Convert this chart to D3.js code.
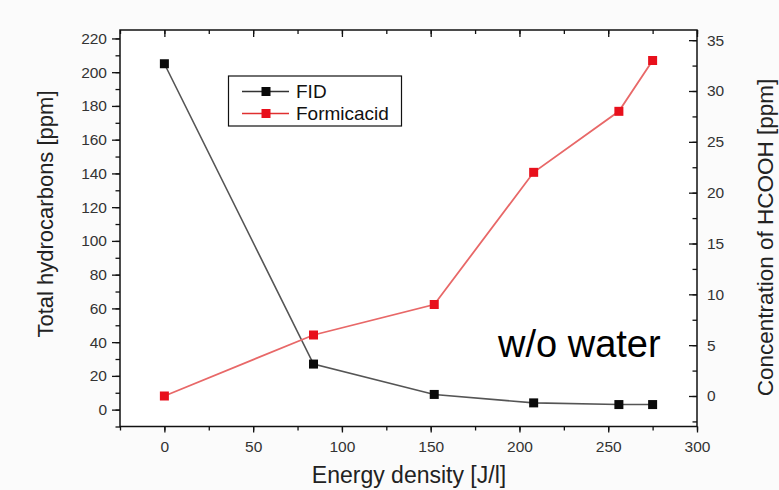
<!DOCTYPE html>
<html lang="en">
<head>
    <meta charset="UTF-8">
    <title>Total hydrocarbons and formic acid vs energy density</title>
    <style>
        body {
            margin: 0;
            padding: 0;
            background-color: #fbfbfb;
        }
        svg {
            display: block;
            font-family: "Liberation Sans", Arial, sans-serif;
        }
        .tick text {
            font-size: 15.5px;
            fill: #333;
        }
        .axis-title {
            fill: #222;
            text-anchor: middle;
        }
        .legend-text {
            font-size: 19px;
            fill: #111;
        }
    </style>
</head>
<body>
    <svg width="779" height="490"></svg>

    <script src="https://d3js.org/d3.v7.min.js"></script>
    <script>
        // Energy density [J/l]
        const energy = [0, 84, 152, 208, 256, 275];
        // FID total hydrocarbons [ppm] (left axis)
        const fid = [205, 27, 9, 4, 3, 3];
        // Formic acid concentration [ppm] (right axis)
        const formic = [0, 6, 9, 22, 28, 33];

        const xTicks = [0, 50, 100, 150, 200, 250, 300];
        const leftTicks = [0, 20, 40, 60, 80, 100, 120, 140, 160, 180, 200, 220];
        const rightTicks = [0, 5, 10, 15, 20, 25, 30, 35];

        const svg = d3.select("svg");
        const margin = {top: 30, right: 82, bottom: 63.5, left: 120};
        const W = +svg.attr("width"), H = +svg.attr("height");
        const x0 = margin.left, x1 = W - margin.right;
        const y0 = H - margin.bottom, y1 = margin.top;

        const x = d3.scaleLinear().domain([-25, 300]).range([x0, x1]);
        const yL = d3.scaleLinear().domain([-10, 225]).range([y0, y1]);
        const yR = d3.scaleLinear().domain([-3, 36]).range([y0, y1]);

        svg.append("rect")
            .attr("x", x0).attr("y", y1)
            .attr("width", x1 - x0).attr("height", y0 - y1)
            .attr("fill", "#fff");

        const clean = g => g.call(g => g.select(".domain").remove())
            .call(g => g.selectAll("line").attr("stroke", "#111").attr("stroke-width", 1.3));

        // minor ticks
        const xMinor = d3.range(-25, 301, 25);
        svg.append("g").attr("transform", `translate(0,${y0})`)
            .call(d3.axisBottom(x).tickValues(xMinor).tickSize(4).tickFormat(""))
            .call(clean);
        svg.append("g").attr("transform", `translate(0,${y1})`)
            .call(d3.axisTop(x).tickValues(xMinor).tickSize(-4).tickFormat(""))
            .call(clean);
        svg.append("g").attr("transform", `translate(${x0},0)`)
            .call(d3.axisLeft(yL).tickValues(d3.range(-10, 221, 10)).tickSize(4.5).tickFormat(""))
            .call(clean);
        svg.append("g").attr("transform", `translate(${x1},0)`)
            .call(d3.axisRight(yR).tickValues(d3.range(-2.5, 36, 2.5)).tickSize(-4.5).tickFormat(""))
            .call(clean);

        // major ticks
        svg.append("g").attr("transform", `translate(0,${y0})`)
            .call(d3.axisBottom(x).tickValues(xTicks).tickSize(6).tickPadding(8.5))
            .call(clean);
        svg.append("g").attr("transform", `translate(0,${y1})`)
            .call(d3.axisTop(x).tickValues(xTicks).tickSize(-7).tickFormat(""))
            .call(clean);
        svg.append("g").attr("transform", `translate(${x0},0)`)
            .call(d3.axisLeft(yL).tickValues(leftTicks).tickSize(8).tickPadding(5))
            .call(clean);
        svg.append("g").attr("transform", `translate(${x1},0)`)
            .call(d3.axisRight(yR).tickValues(rightTicks).tickSize(-8).tickPadding(10))
            .call(clean);

        svg.selectAll(".tick text").attr("font-family", null).attr("font-size", null);

        // frame
        svg.append("rect")
            .attr("x", x0).attr("y", y1)
            .attr("width", x1 - x0).attr("height", y0 - y1)
            .attr("fill", "none")
            .attr("stroke", "#111")
            .attr("stroke-width", 1.5);

        const lineL = d3.line().x((d, i) => x(energy[i])).y(d => yL(d));
        const lineR = d3.line().x((d, i) => x(energy[i])).y(d => yR(d));

        svg.append("path").datum(fid)
            .attr("d", lineL)
            .attr("fill", "none")
            .attr("stroke", "#555")
            .attr("stroke-width", 1.6);
        svg.append("path").datum(formic)
            .attr("d", lineR)
            .attr("fill", "none")
            .attr("stroke", "#e86868")
            .attr("stroke-width", 1.8);

        const s = 9;
        svg.append("g").selectAll("rect")
            .data(fid)
            .join("rect")
            .attr("x", (d, i) => x(energy[i]) - s / 2)
            .attr("y", d => yL(d) - s / 2)
            .attr("width", s).attr("height", s)
            .attr("fill", "#0a0a0a");
        svg.append("g").selectAll("rect")
            .data(formic)
            .join("rect")
            .attr("x", (d, i) => x(energy[i]) - s / 2)
            .attr("y", d => yR(d) - s / 2)
            .attr("width", s).attr("height", s)
            .attr("fill", "#e8101c");

        // legend
        const legend = svg.append("g");
        legend.append("rect")
            .attr("x", 228.5).attr("y", 76)
            .attr("width", 173).attr("height", 50)
            .attr("fill", "#fff")
            .attr("stroke", "#111")
            .attr("stroke-width", 1.2);
        const items = [
            {name: "FID", line: "#333", mark: "#0a0a0a", y: 91.5},
            {name: "Formicacid", line: "#e03030", mark: "#e8101c", y: 113.5}
        ];
        items.forEach(it => {
            legend.append("line")
                .attr("x1", 242).attr("x2", 289)
                .attr("y1", it.y).attr("y2", it.y)
                .attr("stroke", it.line).attr("stroke-width", 1.4);
            legend.append("rect")
                .attr("x", 266 - 4.5).attr("y", it.y - 4.5)
                .attr("width", 9).attr("height", 9)
                .attr("fill", it.mark);
            legend.append("text")
                .attr("class", "legend-text")
                .attr("x", 296).attr("y", it.y + 6.5)
                .text(it.name);
        });

        // annotation
        svg.append("text")
            .attr("x", 498).attr("y", 357)
            .attr("font-size", 38)
            .attr("fill", "#000")
            .text("w/o water");

        // axis titles
        svg.append("text")
            .attr("class", "axis-title")
            .attr("x", 409).attr("y", 483)
            .attr("font-size", 23)
            .text("Energy density [J/l]");
        svg.append("text")
            .attr("class", "axis-title")
            .attr("transform", "translate(53,214) rotate(-90)")
            .attr("font-size", 22)
            .text("Total hydrocarbons [ppm]");
        svg.append("text")
            .attr("class", "axis-title")
            .attr("transform", "translate(773,237.5) rotate(-90)")
            .attr("font-size", 22.5)
            .text("Concentration of HCOOH [ppm]");
    </script>
</body>
</html>
